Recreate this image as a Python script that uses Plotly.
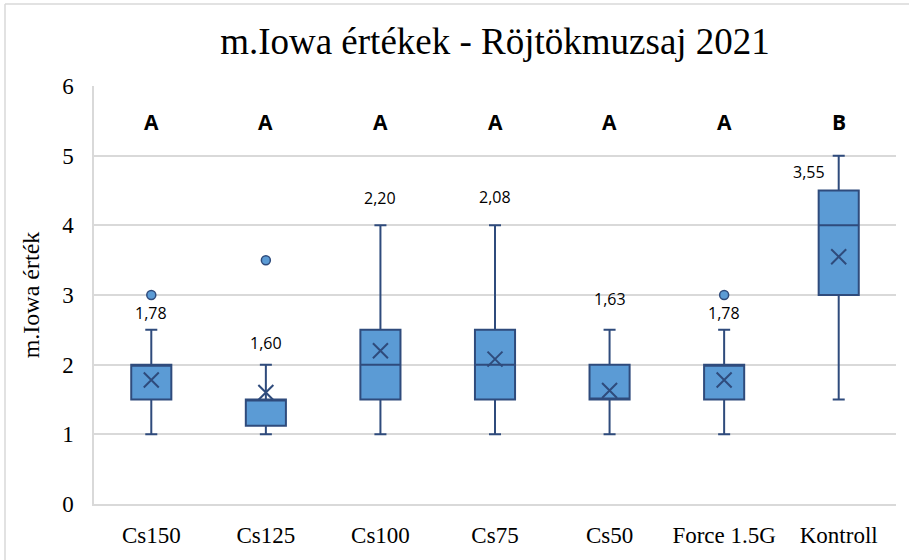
import plotly.graph_objects as go

# ---- data ----
categories = ["Cs150", "Cs125", "Cs100", "Cs75", "Cs50", "Force 1.5G", "Kontroll"]
lower_fence = [1.0, 1.0, 1.0, 1.0, 1.0, 1.0, 1.5]
q1_values = [1.5, 1.125, 1.5, 1.5, 1.5, 1.5, 3.0]
median_values = [2.0, 1.5, 2.0, 2.0, 1.5, 2.0, 4.0]
q3_values = [2.0, 1.5, 2.5, 2.5, 2.0, 2.0, 4.5]
upper_fence = [2.5, 2.0, 4.0, 4.0, 2.5, 2.5, 5.0]
mean_values = [1.78, 1.60, 2.20, 2.08, 1.63, 1.78, 3.55]
outlier_cats = ["Cs150", "Cs125", "Force 1.5G"]
outlier_values = [3.0, 3.5, 3.0]
group_letters = ["A", "A", "A", "A", "A", "A", "B"]

# ---- styling / label placement ----
mean_label_y = [2.745, 2.31, 4.39, 4.41, 2.94, 2.74, 4.76]
mean_label_xshift = [0, 0, 0, 0, 0, 0, -30]
letter_y = 5.48
FILL = "#5B9BD5"
EDGE = "#2F4B7C"
GRID = "#D9D9D9"
SERIF = "Liberation Serif, Times New Roman, serif"
SANS = "Open Sans, Liberation Sans, sans-serif"

fig = go.Figure()
fig.add_trace(go.Box(
    x=categories,
    q1=q1_values, median=median_values, q3=q3_values,
    lowerfence=lower_fence, upperfence=upper_fence,
    boxpoints=False,
    fillcolor=FILL,
    line=dict(color=EDGE, width=2),
    whiskerwidth=0.3,
    showlegend=False,
    hoverinfo="skip",
))
fig.add_trace(go.Scatter(
    x=categories, y=mean_values, mode="markers",
    marker=dict(symbol="x-thin-open", size=15, color=EDGE, line=dict(color=EDGE, width=2)),
    showlegend=False, hoverinfo="skip",
))
fig.add_trace(go.Scatter(
    x=outlier_cats, y=outlier_values, mode="markers",
    marker=dict(symbol="circle", size=9, color=FILL, line=dict(color=EDGE, width=1.5)),
    showlegend=False, hoverinfo="skip",
))

annotations = []
for c, m, ly, xs in zip(categories, mean_values, mean_label_y, mean_label_xshift):
    annotations.append(dict(
        x=c, y=ly, xref="x", yref="y", xshift=xs,
        text=f"{m:.2f}".replace(".", ","), showarrow=False,
        font=dict(family=SANS, size=16, color="#000000"),
    ))
for c, g in zip(categories, group_letters):
    annotations.append(dict(
        x=c, y=letter_y, xref="x", yref="y",
        text=f"<b>{g}</b>", showarrow=False,
        font=dict(family=SANS, size=21, color="#000000"),
    ))

L, R, T, B = 94, 13, 86, 56
W, H = 909, 560
pw, ph = W - L - R, H - T - B

def px_x(p):
    return (p - L) / pw

def px_y(p):
    return (H - B - p) / ph

fig.update_layout(
    width=W, height=H,
    margin=dict(l=L, r=R, t=T, b=B, autoexpand=False),
    paper_bgcolor="white", plot_bgcolor="white",
    title=dict(
        text="m.Iowa értékek - Röjtökmuzsaj 2021",
        x=0.5, xref="paper", xanchor="center",
        y=1 - 41 / H, yref="container", yanchor="middle",
        font=dict(family=SERIF, size=37, color="#000000"),
    ),
    boxgap=0.5,
    annotations=annotations,
    shapes=[
        dict(type="line", xref="paper", yref="paper",
             x0=px_x(5), x1=px_x(5), y0=px_y(4), y1=px_y(600),
             line=dict(color=GRID, width=1.5)),
        dict(type="line", xref="paper", yref="paper",
             x0=px_x(5), x1=px_x(950), y0=px_y(4), y1=px_y(4),
             line=dict(color=GRID, width=1.5)),
    ],
)
fig.update_xaxes(
    type="category", showgrid=False, showline=True, linecolor=GRID, linewidth=1.5,
    tickfont=dict(family=SERIF, size=23, color="#000000"),
    ticks="", ticklabelstandoff=10, automargin=False,
)
fig.update_yaxes(
    range=[0, 6], dtick=1, showgrid=True, gridcolor=GRID, gridwidth=1.5,
    zeroline=False, showline=True, linecolor=GRID, linewidth=1.5,
    tickfont=dict(family=SERIF, size=23, color="#000000"),
    ticks="", ticklabelstandoff=14, automargin=False,
    title=dict(text="m.Iowa érték", font=dict(family=SERIF, size=24, color="#000000"), standoff=16),
)

fig.write_html(
    "out.html",
    config={"displayModeBar": False},
    post_script="document.body.style.margin='0';document.body.style.overflow='hidden';",
)
